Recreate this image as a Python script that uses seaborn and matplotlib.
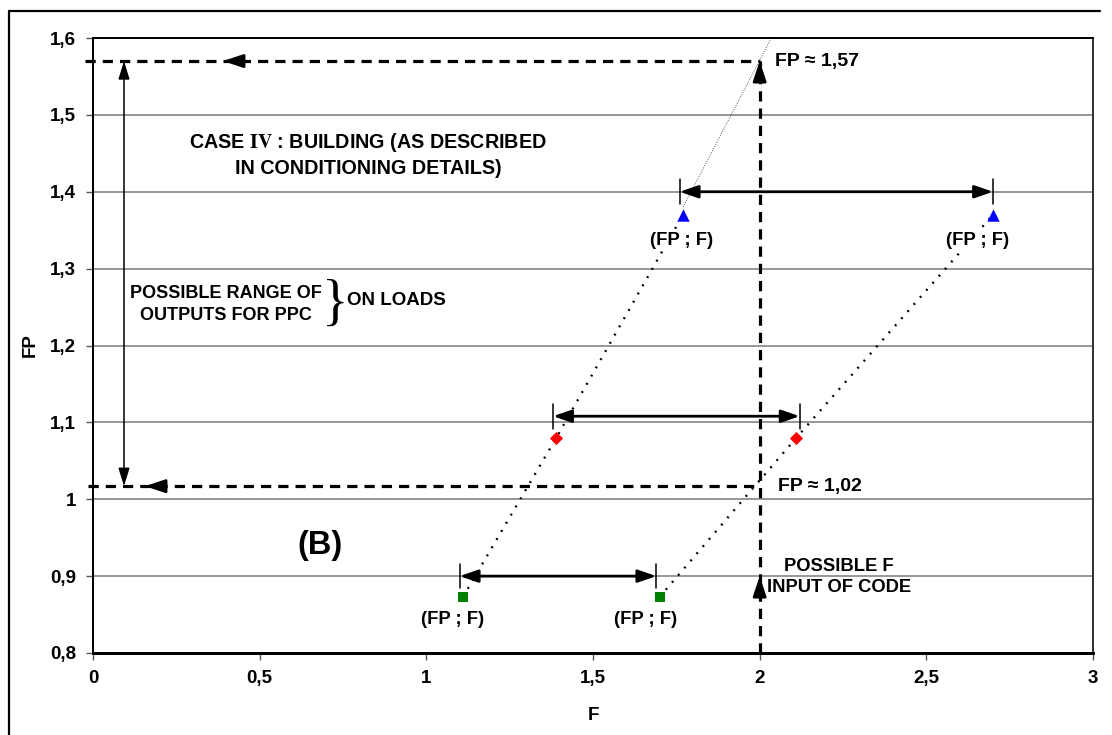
import numpy as np
import pandas as pd
import matplotlib
matplotlib.use("Agg")
import matplotlib.pyplot as plt
from matplotlib.lines import Line2D
from matplotlib.ticker import FixedLocator, FuncFormatter
import seaborn as sns

# Operating points (F, FP) for the three load levels
tri_F = [1.77, 2.70]
tri_FP = [1.37, 1.37]
dia_F = [1.39, 2.11]
dia_FP = [1.08, 1.08]
sq_F = [1.11, 1.70]
sq_FP = [0.873, 0.873]

# Input ranges of F drawn as double arrows at each FP level
range_FP = [0.90, 1.108, 1.40]
range_F_lo = [1.10, 1.38, 1.76]
range_F_hi = [1.69, 2.12, 2.70]

# Extrapolation of the upper branch up to the top of the scale
extrap_F = [1.77, 2.035]
extrap_FP = [1.38, 1.60]

# Code input and resulting FP outputs
F_code = 2.0
F_code_min = 0.9
FP_high = 1.57
FP_low = 1.017

x_ticks = [0, 0.5, 1, 1.5, 2, 2.5, 3]
y_ticks = [0.8, 0.9, 1.0, 1.1, 1.2, 1.3, 1.4, 1.5, 1.6]

sns.set_theme(style="white")
plt.rcParams["font.family"] = ["Liberation Sans", "DejaVu Sans"]
plt.rcParams["font.weight"] = "bold"
plt.rcParams["mathtext.fontset"] = "stix"
for key in ("text.color", "axes.labelcolor", "xtick.color", "ytick.color"):
    plt.rcParams[key] = "black"

fig = plt.figure(figsize=(11.12, 7.35), dpi=100)
ax = fig.add_axes([93 / 1112, 1 - 653 / 735, 1000 / 1112, 615 / 735])
ax.set_xlim(0, 3)
ax.set_ylim(0.8, 1.6)

# horizontal grid
for y in y_ticks[1:-1]:
    ax.axhline(y, color="#7a7a7a", lw=1.1, zorder=0)

# dotted chains joining the points of each branch
left = pd.DataFrame({"F": [sq_F[0], dia_F[0], tri_F[0]], "FP": [sq_FP[0], dia_FP[0], tri_FP[0]]})
right = pd.DataFrame({"F": [sq_F[1], dia_F[1], tri_F[1]], "FP": [sq_FP[1], dia_FP[1], tri_FP[1]]})
for df in (left, right):
    sns.lineplot(data=df, x="F", y="FP", sort=False, estimator=None, ax=ax,
                 color="black", lw=1.7, linestyle=(0, (0.8, 3.2)), zorder=2)
sns.lineplot(x=extrap_F, y=extrap_FP, sort=False, estimator=None, ax=ax,
             color="#555555", lw=0.7, linestyle=(0, (1, 1.5)), zorder=2)

# markers
sns.scatterplot(x=tri_F, y=tri_FP, marker="^", s=80, color="#0000ff", linewidth=0, ax=ax, zorder=5)
sns.scatterplot(x=dia_F, y=dia_FP, marker="D", s=45, color="#ff0000", linewidth=0, ax=ax, zorder=5)
sns.scatterplot(x=sq_F, y=sq_FP, marker="s", s=45, color="#008000", linewidth=0, ax=ax, zorder=5)

# double arrows for the F ranges
for y, x0, x1 in zip(range_FP, range_F_lo, range_F_hi):
    ax.annotate("", xy=(x1, y), xytext=(x0, y),
                arrowprops=dict(arrowstyle="<|-|>,head_length=0.55,head_width=0.19",
                                lw=2, color="black", shrinkA=0, shrinkB=0,
                                mutation_scale=20), zorder=4)
    for xe in (x0, x1):
        ax.plot([xe, xe], [y - 0.016, y + 0.016], color="black", lw=1.1, zorder=4)

# dashed reading lines
dash = dict(color="black", lw=2.3, linestyle=(0, (3.2, 2.2)), zorder=3, clip_on=False)
ax.plot([-0.025, F_code], [FP_high, FP_high], **dash)
ax.plot([-0.015, F_code], [FP_low, FP_low], **dash)
ax.plot([F_code, F_code], [0.8, FP_high], **dash)

head = dict(arrowstyle="-|>,head_length=0.6,head_width=0.2", lw=2, color="black",
            shrinkA=0, shrinkB=0, mutation_scale=20)
ax.annotate("", xy=(0.39, FP_high), xytext=(0.44, FP_high), arrowprops=head)
ax.annotate("", xy=(0.156, FP_low), xytext=(0.206, FP_low), arrowprops=head)
ax.annotate("", xy=(F_code, FP_high), xytext=(F_code, FP_high - 0.022), arrowprops=head)
ax.annotate("", xy=(F_code, F_code_min), xytext=(F_code, F_code_min - 0.022), arrowprops=head)

# output range arrow
ax.annotate("", xy=(0.093, FP_high), xytext=(0.093, FP_low),
            arrowprops=dict(arrowstyle="<|-|>,head_length=0.55,head_width=0.17", lw=1.1,
                            color="black", shrinkA=0, shrinkB=0, mutation_scale=20))

# text annotations
ax.text(2.047, FP_high, "FP \u2248 1,57", fontsize=14, va="center", ha="left")
ax.text(2.055, FP_low, "FP \u2248 1,02", fontsize=14, va="center", ha="left")

lab = dict(fontsize=13.3, ha="center", va="center",
           bbox=dict(facecolor="white", edgecolor="none", pad=1.5), zorder=6)
ax.text(1.767, 1.336, "(FP ; F)", **lab)
ax.text(2.655, 1.336, "(FP ; F)", **lab)
ax.text(1.08, 0.843, "(FP ; F)", **lab)
ax.text(1.659, 0.843, "(FP ; F)", **lab)

ax.text(0.825, 1.448, "CASE $\\mathrm{IV}$ : BUILDING (AS DESCRIBED\nIN CONDITIONING DETAILS)",
        fontsize=14.2, ha="center", va="center", linespacing=1.35)
ax.text(0.40, 1.253, "POSSIBLE RANGE OF\nOUTPUTS FOR PPC", fontsize=13,
        ha="center", va="center", linespacing=1.4)
ax.text(0.726, 1.252, "}", fontsize=40, fontweight="normal", family="Liberation Serif",
        ha="center", va="center")
ax.text(0.762, 1.258, "ON LOADS", fontsize=13.5, ha="left", va="center")
ax.text(0.68, 0.94, "(B)", fontsize=23.5, ha="center", va="center")
ax.text(2.237, 0.899, "POSSIBLE F\nINPUT OF CODE", fontsize=13.2, ha="center", va="center",
        linespacing=1.35)

# axes styling
ax.xaxis.set_major_locator(FixedLocator(x_ticks))
ax.yaxis.set_major_locator(FixedLocator(y_ticks))
fmt = FuncFormatter(lambda v, p: ("%g" % round(v, 2)).replace(".", ","))
ax.xaxis.set_major_formatter(fmt)
ax.yaxis.set_major_formatter(fmt)
ax.tick_params(axis="both", which="major", direction="out", length=5, width=1,
               color="#555555", labelsize=13.5, pad=7, bottom=True, left=True)
ax.set_xlabel("F", fontsize=13.5, fontweight="bold")
ax.set_ylabel("FP", fontsize=13.5, fontweight="bold")
ax.xaxis.set_label_coords(0.5, -(715 - 653) / 615)
ax.yaxis.set_label_coords(-(93 - 30) / 1000, 0.5)
ax.xaxis.label.set_va("center")
ax.yaxis.label.set_va("center")

for side, c, w in (("left", "black", 2), ("top", "black", 2),
                   ("right", "#333333", 2), ("bottom", "black", 3)):
    ax.spines[side].set_visible(True)
    ax.spines[side].set_color(c)
    ax.spines[side].set_linewidth(w * 0.72)

# chart frame
fig.add_artist(Line2D([9 / 1112, 1100 / 1112], [1 - 11 / 735, 1 - 11 / 735],
                      transform=fig.transFigure, color="black", lw=1.6))
fig.add_artist(Line2D([9 / 1112, 9 / 1112], [1 - 11 / 735, 0],
                      transform=fig.transFigure, color="black", lw=1.6))

fig.savefig("out.png", dpi=100, facecolor="white")
